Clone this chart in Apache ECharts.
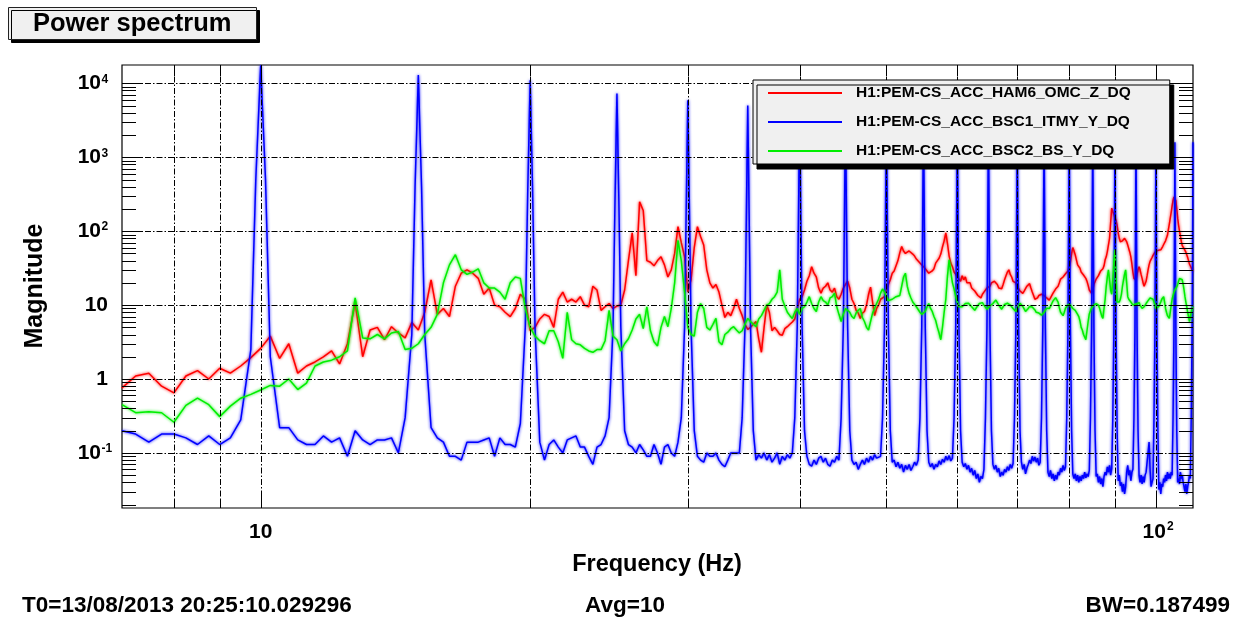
<!DOCTYPE html>
<html>
<head>
<meta charset="utf-8">
<title>Power spectrum</title>
<script src="https://cdn.jsdelivr.net/npm/echarts@6/dist/echarts.min.js"></script>
<style>
  html, body { margin: 0; padding: 0; background: #fff; }
  #chart { width: 1239px; height: 621px; }
</style>
</head>
<body>
<div id="chart"></div>
<script>
// Frequency grid of the spectra: F_START + i * F_STEP (Hz)
const F_START = 7;
const F_STEP = 0.25;

// H1:PEM-CS_ACC_HAM6_OMC_Z_DQ
const red = [
  0.76, 1.1, 1.2, 0.8, 0.65, 1.1, 1.3, 1.0, 1.4, 1.2, 1.5, 1.95,               // 7 - 9.75
  2.6, 3.8, 1.9, 3.0, 1.2, 1.5, 1.7, 2.0, 2.4, 1.6, 3.0, 11, 2.0, 4.6, 5.0, 3.4, 5.1, 4.2, 3.6, 5.8, // 10
  4.6, 8, 22, 7.5, 9, 7, 18, 27, 30, 27, 23, 14, 17, 10, 9.5, 8, 7, 9, 14, 12,  // 15
  4.5, 5.0, 6.5, 7.5, 7.0, 5.0, 12, 15, 11, 12, 11, 13, 10, 9.5, 18, 16, 8.5, 9.5, 10.5, 9, // 20
  9.7, 10, 16, 40, 95, 25, 250, 190, 40, 38, 34, 40, 45, 35, 24, 30, 50, 115, 70, 45, // 25
  15, 22, 60, 115, 85, 65, 30, 20, 17, 19, 15, 10, 6.8, 8, 7.2, 9, 12, 9, 7.2, 5.5, // 30
  4.7, 5, 5.5, 6, 3.5, 2.3, 5, 10, 8, 4.5, 5, 4.5, 4, 3.9, 4.8, 5.1, 5.5, 5.9, 6.5, 9, // 35
  12, 13, 16, 21, 25, 33, 27, 24, 17, 14.5, 17, 18, 20, 16, 15, 17, 13, 12, 14, 17, // 40
  19, 21, 17, 12, 10.5, 8.5, 7.8, 6.6, 7.8, 8.2, 10, 14, 17.5, 11, 7.2, 9, 10, 12, 12, 13, // 45
  16, 19, 22, 27, 29, 34, 40, 51, 62, 54, 50, 47, 54, 56, 49, 46, 42, 41, 37, 35, // 50
  33, 31, 30, 27, 27, 29, 31, 37, 40, 43, 49, 61, 74, 95, 68, 46, 37, 33, 28, 26, // 55
  24, 25, 21, 25, 22, 24, 20, 19.5, 20, 17, 17.5, 15.5, 15, 13.5, 14, 12.5, 14, 15, 15.5, 17, // 60
  17, 18, 20, 19, 21, 20, 19, 17, 17.5, 16.6, 19, 22, 25, 28, 30, 26, 24, 21, 21, 20, // 65
  18, 17, 15.5, 15, 14.4, 15.5, 16, 18, 19, 19.5, 17, 15, 13.5, 12, 11.7, 12.5, 13.5, 13, 14, 14.4, // 70
  13.5, 13, 12.5, 12, 11.7, 12.5, 13, 14.5, 15, 16.5, 16.6, 18, 20, 22.5, 23, 24, 25, 26.5, 28, 29, // 75
  30, 38, 50, 60, 54, 48, 41, 35, 33, 31.5, 28, 27.5, 25.5, 25, 23, 21, 18.5, 16, 15.5, 14.4, // 80
  16, 19, 20, 22.5, 22, 25, 26, 29, 28, 31, 34, 41, 45, 53, 56, 80, 130, 205, 185, 170, // 85
  150, 140, 120, 95, 80, 72, 70, 74, 78, 80, 78, 72, 65, 58, 52, 45, 36, 28, 23, 24, // 90
  22, 26, 30, 33, 30, 26, 23, 20, 18, 19, 21, 25, 30, 35, 39, 41, 44, 47, 50, 52, // 95
  53, 54, 55, 55, 56, 56, 58, 62, 66, 70, 74, 77, 88, 105, 125, 150, 180, 220, 260, 290, // 100
  300, 260, 200, 150, 120, 100, 85, 72, 64, 62, 58, 55, 52, 48, 44, 40, 36, 34, 32, 30, // 105
  29                                                                                 // 110
];

// H1:PEM-CS_ACC_BSC1_ITMY_Y_DQ
const blue = [
  0.2, 0.18, 0.14, 0.18, 0.18, 0.16, 0.13, 0.17, 0.13, 0.16, 0.28, 2.5,          // 7 - 9.75
  17500, 2, 0.22, 0.22, 0.15, 0.13, 0.13, 0.17, 0.14, 0.16, 0.09, 0.2, 0.15, 0.13, 0.15, 0.15, 0.16, 0.1, 0.3, 4, // 10
  13000, 4, 0.22, 0.16, 0.14, 0.09, 0.09, 0.08, 0.14, 0.14, 0.14, 0.15, 0.16, 0.09, 0.16, 0.13, 0.13, 0.12, 0.25, 5, // 15
  11000, 5, 0.14, 0.08, 0.13, 0.15, 0.12, 0.1, 0.15, 0.16, 0.17, 0.12, 0.12, 0.09, 0.07, 0.12, 0.13, 0.17, 0.3, 5, // 20
  7300, 5, 0.2, 0.13, 0.12, 0.1, 0.13, 0.11, 0.09, 0.09, 0.13, 0.1, 0.07, 0.12, 0.13, 0.1, 0.09, 0.14, 0.3, 5, // 25
  5900, 5, 0.2, 0.09, 0.08, 0.075, 0.1, 0.09, 0.09, 0.1, 0.08, 0.07, 0.065, 0.08, 0.1, 0.1, 0.1, 0.1, 0.3, 5, // 30
  5000, 5, 0.2, 0.08, 0.095, 0.085, 0.1, 0.08, 0.095, 0.075, 0.085, 0.1, 0.07, 0.09, 0.08, 0.095, 0.085, 0.1, 0.3, 5, // 35
  4500, 5, 0.2, 0.09, 0.07, 0.066, 0.08, 0.07, 0.085, 0.09, 0.075, 0.085, 0.07, 0.066, 0.08, 0.075, 0.09, 0.08, 0.3, 5, // 40
  4000, 5, 0.2, 0.08, 0.07, 0.075, 0.06, 0.07, 0.08, 0.07, 0.085, 0.075, 0.09, 0.08, 0.095, 0.085, 0.08, 0.09, 0.3, 5, // 45
  3800, 5, 0.2, 0.075, 0.08, 0.065, 0.075, 0.062, 0.07, 0.055, 0.068, 0.06, 0.07, 0.058, 0.065, 0.075, 0.068, 0.08, 0.3, 5, // 50
  3500, 5, 0.2, 0.075, 0.065, 0.072, 0.06, 0.07, 0.065, 0.078, 0.07, 0.082, 0.075, 0.09, 0.08, 0.092, 0.078, 0.085, 0.3, 5, // 55
  3200, 5, 0.2, 0.075, 0.065, 0.072, 0.06, 0.068, 0.055, 0.062, 0.05, 0.058, 0.045, 0.052, 0.04, 0.048, 0.045, 0.06, 0.3, 5, // 60
  3000, 5, 0.2, 0.07, 0.06, 0.068, 0.055, 0.062, 0.048, 0.055, 0.05, 0.06, 0.055, 0.065, 0.058, 0.07, 0.062, 0.072, 0.3, 5, // 65
  2800, 5, 0.2, 0.075, 0.06, 0.07, 0.052, 0.062, 0.07, 0.08, 0.072, 0.09, 0.078, 0.088, 0.075, 0.085, 0.068, 0.075, 0.3, 5, // 70
  2600, 5, 0.2, 0.055, 0.048, 0.058, 0.045, 0.052, 0.042, 0.05, 0.044, 0.055, 0.05, 0.062, 0.055, 0.068, 0.058, 0.065, 0.3, 5, // 75
  2500, 5, 0.2, 0.052, 0.045, 0.052, 0.042, 0.05, 0.04, 0.048, 0.042, 0.05, 0.045, 0.055, 0.046, 0.052, 0.048, 0.058, 0.3, 5, // 80
  2400, 5, 0.2, 0.048, 0.052, 0.04, 0.048, 0.038, 0.045, 0.035, 0.048, 0.055, 0.05, 0.065, 0.055, 0.068, 0.05, 0.062, 0.3, 5, // 85
  2300, 5, 0.2, 0.042, 0.05, 0.036, 0.04, 0.03, 0.038, 0.028, 0.035, 0.055, 0.068, 0.05, 0.058, 0.042, 0.055, 0.06, 0.3, 5, // 90
  2200, 5, 0.2, 0.05, 0.04, 0.05, 0.038, 0.048, 0.04, 0.05, 0.055, 0.075, 0.1, 0.14, 0.06, 0.035, 0.04, 0.045, 0.3, 5, // 95
  2000, 5, 0.2, 0.032, 0.04, 0.028, 0.038, 0.035, 0.045, 0.04, 0.05, 0.042, 0.055, 0.045, 0.052, 0.045, 0.055, 0.05, 0.3, 5, // 100
  1600, 5, 0.2, 0.04, 0.045, 0.038, 0.055, 0.045, 0.05, 0.04, 0.035, 0.03, 0.038, 0.028, 0.035, 0.04, 0.05, 0.045, 0.3, 5, // 105
  1600                                                                               // 110
];

// Extra samples on the flanks of the 5 Hz comb lines: [frequency, magnitude]
const bluePeakShoulders = [
  [9.875, 500], [10.125, 500], [14.875, 400], [15.125, 400], [19.875, 350], [20.125, 350],
  [24.875, 250], [25.125, 250], [29.875, 200], [30.125, 200], [34.875, 170], [35.125, 170],
  [39.875, 150], [40.125, 150], [44.875, 130], [45.125, 130], [49.875, 120], [50.125, 120],
  [54.875, 110], [55.125, 110], [59.875, 100], [60.125, 100], [64.875, 100], [65.125, 100],
  [69.875, 90], [70.125, 90], [74.875, 90], [75.125, 90], [79.875, 85], [80.125, 85],
  [84.875, 80], [85.125, 80], [89.875, 80], [90.125, 80], [94.875, 75], [95.125, 75],
  [99.875, 70], [100.125, 70], [104.875, 55], [105.125, 55], [109.875, 55]
];

// H1:PEM-CS_ACC_BSC2_BS_Y_DQ
const green = [
  0.45, 0.35, 0.36, 0.35, 0.26, 0.44, 0.55, 0.45, 0.31, 0.43, 0.55, 0.62,        // 7 - 9.75
  0.71, 0.82, 0.8, 1.0, 0.72, 0.88, 1.5, 1.7, 1.8, 2.0, 2.4, 12.5, 3.6, 3.5, 4.0, 3.5, 4.2, 4.4, 2.5, 2.6, // 10
  3.0, 4.0, 5.0, 7.5, 20, 35, 48, 30, 26, 28, 31, 20, 17, 17, 15, 12, 20, 24, 23, 9, // 15
  5.0, 3.8, 3.3, 3.0, 4.5, 4.5, 3.2, 1.9, 8, 3.4, 3.0, 2.9, 2.6, 2.4, 2.3, 2.5, 2.5, 3.3, 8.5, 3.8, // 20
  3.4, 2.4, 3.0, 3.5, 4.6, 6.5, 7.5, 4.8, 9.5, 4.5, 3.2, 2.8, 5, 7, 5.1, 9, 20, 75, 40, 15, // 25
  5, 4.0, 3.8, 8, 10.5, 9, 5, 4.6, 5.5, 6.6, 3.2, 2.9, 4.0, 4.3, 4.8, 5.1, 4.6, 4.2, 4.5, 5.5, // 30
  6.6, 6, 5.5, 5.1, 6.5, 7.2, 8.5, 10, 10.5, 12, 13, 15, 30, 12, 9.7, 8, 7.2, 6.6, 8, 9, // 35
  7.5, 9, 9.5, 11, 13, 10.5, 9, 8.2, 11, 13, 11.5, 11, 10, 12.5, 13, 14.5, 9.5, 7.5, 6, 7.5, // 40
  9, 8.5, 8, 7, 6.6, 7.8, 8.5, 9, 6.8, 6, 5, 4.6, 6, 7.8, 9, 10.5, 12, 14.5, 16.5, 15, // 45
  13, 11.5, 11.5, 12, 11.7, 13, 12.5, 13.5, 18, 24, 27, 18, 14.4, 12.5, 11, 10.5, 9.5, 9, 8, 7.5, // 50
  7.2, 8.2, 9.5, 10.5, 9, 8.2, 7, 6.2, 5, 4.2, 3.4, 5, 8, 12, 25, 41, 28, 20, 16.6, 13, // 55
  11, 9.5, 9, 9.5, 9.2, 10.5, 10, 10.6, 10.8, 9.5, 9, 8.5, 9.2, 9.5, 10.5, 10.2, 10.8, 10, 9.8, 8.8, // 60
  9, 9.8, 9.8, 10.5, 11, 11.7, 11.2, 10, 9.6, 8.8, 9.5, 10.2, 10.1, 10.6, 10.8, 10, 9.6, 9, 8.6, 8.2, // 65
  9, 9.6, 10.6, 10, 9.6, 8.9, 8.2, 8.6, 9, 9.6, 9.7, 9.4, 9, 8.6, 8, 8.1, 7.8, 7.6, 7.3, 7.2, // 70
  8, 8.5, 9.1, 8.8, 9, 9.6, 10.5, 11.4, 12, 12.6, 13, 11, 9.2, 8, 7.6, 7.2, 8, 9.1, 9.5, 10.1, // 75
  10.6, 10, 9.6, 9, 9.1, 8.5, 8.1, 7.5, 7, 6.1, 5, 4.6, 4, 3.7, 3.4, 4.5, 6, 7.6, 8.4, 9.2, // 80
  9.7, 10, 10.4, 10.5, 10.6, 10, 9.1, 8, 7.1, 6.6, 9, 12, 18, 24, 30, 22, 16, 14, 22, 38, // 85
  56, 25, 11, 10.6, 11, 12, 14, 18, 22, 26, 30, 20, 13, 12, 11.5, 11, 10.5, 10, 10, 10.3, // 90
  10.6, 10.4, 10.6, 10.8, 10, 9.5, 9, 9.1, 9.5, 10, 10.5, 11, 11.5, 12, 12.5, 13, 13, 12, 11, 10, // 95
  9, 8.8, 9, 9.6, 10, 11, 12, 12.5, 13, 11, 9, 8, 7.2, 6.8, 6.6, 8, 10, 12, 13.5, 15, // 100
  16, 17, 17.6, 19, 21, 23, 24, 24, 22, 19, 16, 13, 11, 9.5, 8, 7, 6, 7, 8, 9,      // 105
  9.5                                                                                // 110
];

const seriesNames = ['H1:PEM-CS_ACC_HAM6_OMC_Z_DQ', 'H1:PEM-CS_ACC_BSC1_ITMY_Y_DQ', 'H1:PEM-CS_ACC_BSC2_BS_Y_DQ'];
const seriesColors = ['#ff0000', '#0000ff', '#00ee00'];

// Axis ranges, grid lines and tick labels
const X_MIN = 7, X_MAX = 110;
const Y_MIN = 0.018, Y_MAX = 17700;
const xGridValues = [8, 9, 10, 20, 30, 40, 50, 60, 70, 80, 90, 100];
const xLabelValues = [10, 100];
const xLabelBase = ['10', '10'];
const xLabelExp = ['', '2'];
const yLabelValues = [0.1, 1, 10, 100, 1000, 10000];
const yLabelBase = ['10', '1', '10', '10', '10', '10'];
const yLabelExp = ['-1', '', '', '2', '3', '4'];

const FONT = '"Liberation Sans", Arial, Helvetica, sans-serif';
const DASH = [6, 2, 1.5, 2];

const toPairs = arr => arr.map((v, i) => [F_START + i * F_STEP, v]);
const redData = toPairs(red);
const greenData = toPairs(green);
const blueData = toPairs(blue).concat(bluePeakShoulders).sort((a, b) => a[0] - b[0]);

// minor tick positions on the log magnitude axis (1..9 x 10^k)
const yTickValues = [];
for (let e = -2; e <= 4; e++) {
  for (let m = 1; m <= 9; m++) {
    const v = m * Math.pow(10, e);
    if (v >= Y_MIN && v <= Y_MAX) yTickValues.push(v);
  }
}

const crisp = v => Math.round(v) + 0.5;
const seg = (x1, y1, x2, y2, dash) => ({
  type: 'line',
  shape: { x1, y1, x2, y2 },
  style: { stroke: '#000', lineWidth: 1, lineDash: dash || null }
});

function renderXGrid(params, api) {
  const v = api.value(0);
  const top = api.coord([v, Y_MAX]);
  const bot = api.coord([v, Y_MIN]);
  const x = crisp(top[0]);
  const major = v === 10 || v === 100;
  const lenB = major ? 16 : 9;
  const lenT = major ? 16 : 11;
  return {
    type: 'group',
    children: [
      seg(x, top[1], x, bot[1], DASH),
      seg(x, bot[1], x, bot[1] - lenB),
      seg(x, top[1], x, top[1] + lenT)
    ]
  };
}

function renderYGrid(params, api) {
  const v = api.value(1);
  const L = api.coord([X_MIN, v]);
  const R = api.coord([X_MAX, v]);
  const y = crisp(L[1]);
  const lg = Math.log10(v);
  const decade = Math.abs(lg - Math.round(lg)) < 1e-9;
  const len = decade ? 20 : 14;
  const children = [
    seg(L[0], y, L[0] + len, y),
    seg(R[0] - len, y, R[0], y)
  ];
  if (decade) children.push(seg(L[0], y, R[0], y, DASH));
  return { type: 'group', children };
}

const labelFont = size => 'bold ' + size + 'px ' + FONT;

function renderXLabels(params, api) {
  const i = params.dataIndex;
  const p = api.coord([api.value(0), Y_MIN]);
  const exp = xLabelExp[i];
  const y = p[1] + 24;
  if (!exp) {
    return { type: 'text', style: { text: xLabelBase[i], x: p[0], y, font: labelFont(21), fill: '#000', align: 'center', verticalAlign: 'middle' } };
  }
  return {
    type: 'group',
    children: [
      { type: 'text', style: { text: xLabelBase[i], x: p[0] + 10, y, font: labelFont(21), fill: '#000', align: 'right', verticalAlign: 'middle' } },
      { type: 'text', style: { text: exp, x: p[0] + 11, y: y - 11, font: labelFont(12), fill: '#000', align: 'left', verticalAlign: 'top' } }
    ]
  };
}

function renderYLabels(params, api) {
  const i = params.dataIndex;
  const p = api.coord([X_MIN, api.value(1)]);
  const exp = yLabelExp[i];
  if (!exp) {
    return { type: 'text', style: { text: yLabelBase[i], x: p[0] - 14, y: p[1], font: labelFont(21), fill: '#000', align: 'right', verticalAlign: 'middle' } };
  }
  return {
    type: 'group',
    children: [
      { type: 'text', style: { text: yLabelBase[i], x: p[0] - 21, y: p[1], font: labelFont(21), fill: '#000', align: 'right', verticalAlign: 'middle' } },
      { type: 'text', style: { text: exp, x: p[0] - 20.5, y: p[1] - 10, font: labelFont(12), fill: '#000', align: 'left', verticalAlign: 'top' } }
    ]
  };
}

function spectrum(name, color, data) {
  return {
    name,
    type: 'line',
    data,
    color,
    showSymbol: false,
    symbol: 'none',
    sampling: false,
    clip: true,
    z: 2,
    lineStyle: { color, width: 1.5, shadowColor: color, shadowBlur: 3 },
    emphasis: { disabled: true }
  };
}

const chart = echarts.init(document.getElementById('chart'), null, { renderer: 'canvas' });

chart.setOption({
  animation: false,
  backgroundColor: '#fff',
  title: {
    text: 'Power spectrum',
    left: 8,
    top: 7,
    padding: [4, 25, 3, 25],
    backgroundColor: '#f0f0f0',
    borderColor: '#222',
    borderWidth: 1,
    shadowColor: '#000',
    shadowBlur: 0,
    shadowOffsetX: 3,
    shadowOffsetY: 3,
    textStyle: { fontFamily: FONT, fontWeight: 'bold', fontSize: 25.5, color: '#000' }
  },
  legend: {
    data: seriesNames,
    orient: 'vertical',
    left: 753,
    top: 80,
    icon: 'rect',
    itemWidth: 74,
    itemHeight: 2,
    itemGap: 13,
    padding: [5, 39, 5, 15],
    backgroundColor: '#f0f0f0',
    borderColor: '#000',
    borderWidth: 1,
    shadowColor: '#000',
    shadowBlur: 0,
    shadowOffsetX: 4,
    shadowOffsetY: 5,
    selectedMode: false,
    z: 10,
    textStyle: { fontFamily: FONT, fontWeight: 'bold', fontSize: 15.5, color: '#000', padding: [0, 0, 0, 9] }
  },
  grid: {
    left: 122, top: 65, right: 46, bottom: 113,
    show: true, borderColor: '#000', borderWidth: 1.2, backgroundColor: '#fff'
  },
  xAxis: {
    type: 'log', logBase: 10, min: X_MIN, max: X_MAX,
    axisLine: { show: false }, axisTick: { show: false }, axisLabel: { show: false }, splitLine: { show: false }
  },
  yAxis: {
    type: 'log', logBase: 10, min: Y_MIN, max: Y_MAX,
    axisLine: { show: false }, axisTick: { show: false }, axisLabel: { show: false }, splitLine: { show: false }
  },
  graphic: [
    { type: 'text', x: 35, y: 286, rotation: Math.PI / 2, style: { text: 'Magnitude', font: labelFont(25), fill: '#000', align: 'center', verticalAlign: 'middle' } },
    { type: 'text', x: 657, y: 565, style: { text: 'Frequency (Hz)', font: labelFont(23.5), fill: '#000', align: 'center', verticalAlign: 'middle' } },
    { type: 'text', x: 22, y: 606, style: { text: 'T0=13/08/2013 20:25:10.029296', font: labelFont(22.5), fill: '#000', align: 'left', verticalAlign: 'middle' } },
    { type: 'text', x: 625, y: 606, style: { text: 'Avg=10', font: labelFont(22.5), fill: '#000', align: 'center', verticalAlign: 'middle' } },
    { type: 'text', x: 1230, y: 606, style: { text: 'BW=0.187499', font: labelFont(22.5), fill: '#000', align: 'right', verticalAlign: 'middle' } }
  ],
  series: [
    spectrum(seriesNames[0], seriesColors[0], redData),
    spectrum(seriesNames[1], seriesColors[1], blueData),
    spectrum(seriesNames[2], seriesColors[2], greenData),
    { type: 'custom', silent: true, z: 5, clip: false, renderItem: renderXGrid, data: xGridValues.map(v => [v, 1]) },
    { type: 'custom', silent: true, z: 5, clip: false, renderItem: renderYGrid, data: yTickValues.map(v => [X_MIN, v]) },
    { type: 'custom', silent: true, z: 5, clip: false, renderItem: renderXLabels, data: xLabelValues.map(v => [v, Y_MIN]) },
    { type: 'custom', silent: true, z: 5, clip: false, renderItem: renderYLabels, data: yLabelValues.map(v => [X_MIN, v]) }
  ]
});
</script>
</body>
</html>
